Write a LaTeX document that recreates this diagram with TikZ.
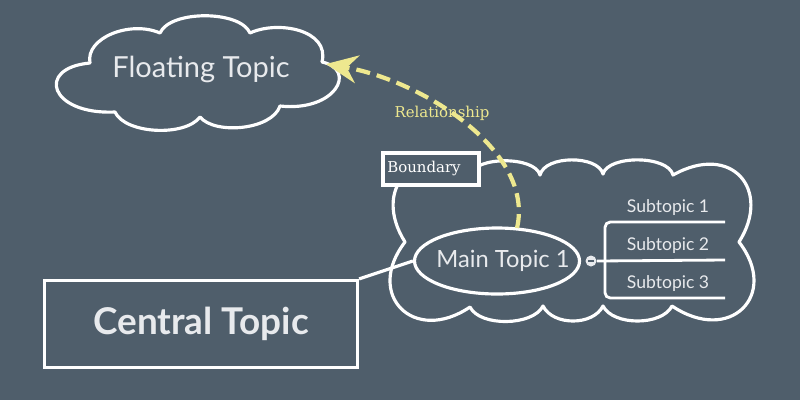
\documentclass[tikz,border=0pt]{standalone}
\usepackage{fontspec}
\setmainfont{Lato}
\newfontfamily\slabfont{DejaVu Serif}
\usetikzlibrary{shapes.geometric,arrows.meta}
\definecolor{bgslate}{RGB}{79,94,107}
\definecolor{relyellow}{RGB}{238,232,143}
\definecolor{txtgray}{RGB}{232,234,237}
\tikzset{
	topicline/.style={white, line width=1.8pt},
	subline/.style={white, line width=1.6pt},
	subtext/.style={txtgray, font=\fontsize{10}{12}\selectfont, anchor=base},
}
\begin{document}
\begin{tikzpicture}[x=0.02cm, y=-0.02cm]
	\fill [bgslate](0,0) rectangle (800,400);
	% boundary round main topic
	\draw [topicline, line join=round](405,242) .. controls (372,190) and (412,142) .. (470,175)
		.. controls (475,156) and (535,156) .. (540,175)
		.. controls (545,155) and (598,155) .. (603,174)
		.. controls (608,155) and (668,155) .. (673,175)
		.. controls (732,142) and (772,190) .. (739,242)
		.. controls (780,295) and (730,345) .. (672,306)
		.. controls (662,326) and (613,326) .. (603,306)
		.. controls (593,326) and (553,326) .. (543,306)
		.. controls (533,326) and (480,327) .. (470,307)
		.. controls (414,345) and (364,295) .. cycle;
	\node (bdlabel)[draw, topicline, fill=bgslate, minimum width=96*0.02cm, minimum height=32*0.02cm] at (431,169){};
	\node [anchor=west, text=white, font=\slabfont\fontsize{8.5}{10}\selectfont, inner sep=0pt] at (387,168){Boundary};
	% floating topic cloud
	\draw [topicline, line join=round](90,63) .. controls (85,38) and (130,20) .. (160,33)
		.. controls (170,10) and (240,10) .. (250,33)
		.. controls (278,20) and (330,30) .. (322,62)
		.. controls (358,70) and (335,112) .. (280,106)
		.. controls (272,130) and (215,135) .. (200,117)
		.. controls (185,137) and (125,134) .. (115,112)
		.. controls (50,115) and (35,68) .. cycle;
	\node (float)[txtgray, font=\fontsize{16.5}{18}\selectfont] at (201,69){Floating Topic};
	\coordinate (floatend) at (326,64);
	% topics
	\node (central)[draw, topicline, minimum width=313*0.02cm, minimum height=87*0.02cm, text=txtgray, font=\bfseries\fontsize{21}{24}\selectfont] at (201,324){Central Topic};
	\node (main)[ellipse, draw, topicline, minimum width=165*0.02cm, minimum height=66*0.02cm, inner sep=0pt] at (497,261){};
	\node [txtgray, font=\fontsize{13.5}{15}\selectfont] at (503,261){Main Topic 1};
	\draw [topicline](central.north east) -- (main.west);
	% subtopics
	\node (knob)[circle, fill=txtgray, minimum size=11*0.02cm, inner sep=0pt] at (591,261){};
	\draw [bgslate, line width=0.8pt](588,261) -- (594,261);
	\coordinate (sa) at (725,222);
	\coordinate (sb) at (725,260);
	\coordinate (sc) at (725,298);
	\draw [subline](knob.east) -- (sb);
	\draw [subline, rounded corners=3pt](sa) -- (605,222) -- (605,298) -- (sc);
	\node [subtext] at (668,212){Subtopic 1};
	\node [subtext] at (668,250){Subtopic 2};
	\node [subtext] at (668,288){Subtopic 3};
	% relationship
	\coordinate (relstart) at (517,228);
	\draw [relyellow, line width=2.4pt, dash pattern=on 8pt off 4pt, -{Stealth[length=18pt, width=16pt, inset=6pt]}](relstart) .. controls (535,150) and (420,80) .. (floatend);
	\node [relyellow, font=\slabfont\fontsize{8.5}{10}\selectfont] at (442,113){Relationship};
\end{tikzpicture}
\end{document}
